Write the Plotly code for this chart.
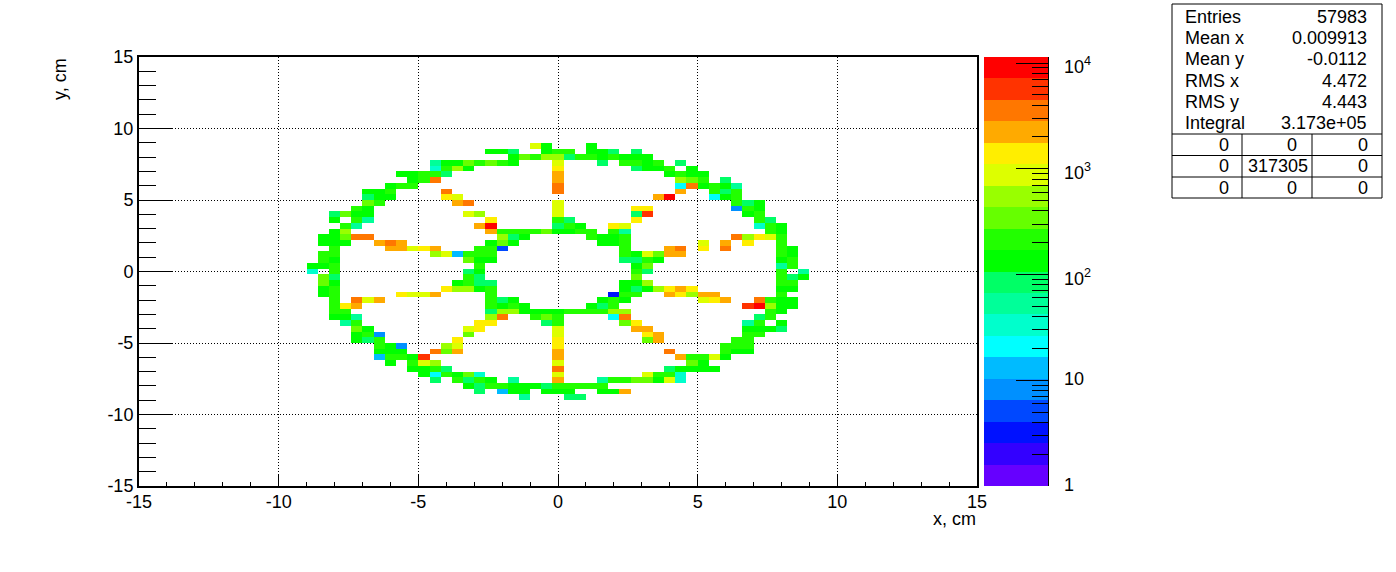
import math
import plotly.graph_objects as go

W, H = 1396, 572
BIN = 0.4
NBINS = 75
ZMAX = 4.057
NLEV = 20

palette = ["#6600ff", "#3300ff", "#0011ff", "#0048ff", "#0090ff", "#00bbff", "#00ffff",
           "#00ffcc", "#00ff99", "#00ff66", "#00ff00", "#22ff00", "#66ff00", "#99ff00",
           "#ddff00", "#ffee00", "#ffaa00", "#ff7700", "#ff3300", "#ff0000"]

LEVELS = "0123456789abcdefghij"

# colour band read per bin: row index -> (first column index, band codes)
cells = {
    59: [(35, "ea"), (40, "a")],
    58: [(31, "aa9"), (36, "abb"), (40, "aa9"), (44, "9")],
    57: [(33, "acbdd9bbabaaa")],
    56: [(26, "8aacbcba"), (37, "e"), (41, "9"), (43, "bbab"), (48, "9")],
    55: [(26, "7bda"), (37, "f"), (44, "9aab"), (49, "a")],
    54: [(23, "aabb9"), (37, "g"), (47, "abaa")],
    53: [(24, "abh"), (37, "g"), (48, "dcb"), (52, "9")],
    52: [(22, "abb"), (37, "h"), (48, "6haba8")],
    51: [(20, "aab"), (27, "h"), (37, "h"), (48, "g"), (51, "b9b")],
    50: [(20, "9aa"), (27, "fe"), (46, "gj"), (51, "6ab")],
    49: [(20, "cb"), (28, "gh"), (37, "e"), (53, "b9a")],
    48: [(19, "ba"), (37, "e"), (44, "ff"), (53, "4ba")],
    47: [(17, "9caa"), (29, "ed"), (37, "e"), (44, "9i"), (54, "ab")],
    46: [(17, "a"), (19, "b8"), (31, "f"), (37, "b9"), (44, "f"), (55, "b9")],
    45: [(18, "b8"), (30, "gj"), (37, "9ba"), (42, "fe"), (55, "7ba")],
    44: [(17, "ad"), (31, "gbbbbcaabb"), (42, "b8"), (56, "ba")],
    43: [(16, "aachh"), (32, "d9a"), (40, "baab"), (53, "hdfeb")],
    42: [(16, "aaa"), (21, "ghg"), (31, "aca"), (41, "aab"), (50, "e"), (52, "g"), (54, "f"), (57, "b")],
    41: [(17, "b"), (22, "ggefg"), (30, "bb3"), (43, "b"), (47, "gh"), (50, "f"), (52, "h"), (57, "ba")],
    40: [(16, "bb"), (26, "de5bbb"), (43, "baecgg"), (57, "ba")],
    39: [(16, "ba"), (29, "caa"), (43, "99ba"), (57, "ab")],
    38: [(15, "aab"), (30, "b"), (44, "ac"), (57, "8b")],
    37: [(15, "7"), (17, "b"), (29, "9a"), (44, "b9"), (57, "b"), (59, "8")],
    36: [(16, "c9"), (29, "b9"), (44, "c"), (57, "b9a")],
    35: [(16, "ca"), (28, "ab99"), (43, "aad"), (57, "bb")],
    34: [(16, "ab"), (27, "fddab"), (43, "a9adfgf"), (57, "aa")],
    33: [(16, "ab"), (23, "feeg"), (31, "b"), (42, "2bb"), (47, "gfdgg"), (57, "b")],
    32: [(17, "b"), (19, "heg"), (31, "b9a"), (41, "aba"), (50, "efg"), (55, "hbaa")],
    31: [(17, "bfg"), (31, "baba"), (40, "a9b"), (54, "ijdaa")],
    30: [(17, "bb"), (31, "9ddaaaabbbbdd"), (56, "ba")],
    29: [(17, "aa8"), (31, "dh"), (35, "bcb"), (42, "6h"), (55, "9b")],
    28: [(18, "8b"), (30, "ff"), (36, "9b"), (43, "cf"), (54, "8b"), (57, "a")],
    27: [(19, "ca"), (29, "ef"), (37, "e"), (44, "gg"), (54, "aaa9")],
    26: [(19, "ab4"), (29, "c"), (37, "e"), (45, "fg"), (54, "bb")],
    25: [(19, "a9b"), (28, "f"), (37, "f"), (45, "cg"), (53, "bb")],
    24: [(21, "ba4"), (27, "de"), (37, "f"), (52, "bbb")],
    23: [(21, "aaa"), (26, "hcg"), (37, "g"), (47, "h"), (52, "baa")],
    22: [(21, "5bbai"), (37, "g"), (48, "gbbea")],
    21: [(22, "a"), (24, "bed"), (37, "e"), (49, "ca")],
    20: [(24, "aab9"), (37, "h"), (47, "9aaaa")],
    19: [(25, "a6bac7"), (37, "e"), (45, "ebb7")],
    18: [(26, "9"), (28, "b9ba"), (33, "8"), (37, "g"), (41, "8bbccae7")],
    17: [(29, "a9bbaaa9bbbbb")],
    16: [(30, "9"), (32, "5aa"), (36, "aaa"), (41, "aag")],
    15: [(34, "8"), (38, "99")],
}

axis_ticks = [-15, -10, -5, 0, 5, 10, 15]
axis_ticktext = ["-15", "-10", "-5", "0", "5", "10", "15"]
scale_labels = ["1", "10", "10<sup>2</sup>", "10<sup>3</sup>", "10<sup>4</sup>"]
stats_names = ["Entries", "Mean x", "Mean y", "RMS x", "RMS y", "Integral"]
stats_values = ["57983", "0.009913", "-0.0112", "4.472", "4.443", "3.173e+05"]
overflow_table = [["0", "0", "0"], ["0", "317305", "0"], ["0", "0", "0"]]

band = ZMAX / NLEV
z = [[None] * NBINS for _ in range(NBINS)]
for row, segs in cells.items():
    for start, codes in segs:
        for k, c in enumerate(codes):
            z[row][start + k] = (LEVELS.index(c) + 0.5) * band

scale = []
for k, col in enumerate(palette):
    scale.append([k / NLEV, col])
    scale.append([(k + 1) / NLEV, col])

FONT = "Liberation Sans"
FS = 18
def px(x): return x / W
def py(y): return 1 - y / H

fig = go.Figure()
fig.add_trace(go.Heatmap(z=z, x0=-15 + BIN / 2, dx=BIN, y0=-15 + BIN / 2, dy=BIN,
                         colorscale=scale, zmin=0, zmax=ZMAX, showscale=False,
                         hoverongaps=False, xaxis="x", yaxis="y"))
fig.add_trace(go.Heatmap(z=[[(k + 0.5) * band] for k in range(NLEV)], x=[0],
                         y=[(k + 0.5) * band for k in range(NLEV)],
                         colorscale=scale, zmin=0, zmax=ZMAX, showscale=False,
                         xaxis="x2", yaxis="y2"))

dom_y = [py(486), py(57)]
tickfont = dict(family=FONT, size=FS, color="black")
GRID = dict(showgrid=True, gridcolor="black", gridwidth=1, griddash="1px,2px", automargin=False)
minor_vals = [v for v in range(-15, 16) if v % 5]
fig.update_layout(
    template="none",
    width=W, height=H, margin=dict(l=0, r=0, t=0, b=0, pad=0, autoexpand=False),
    paper_bgcolor="white", plot_bgcolor="white", showlegend=False,
    xaxis=dict(domain=[px(139), px(977)], range=[-15, 15], tickvals=axis_ticks, ticktext=axis_ticktext,
               ticks="inside", ticklen=12, tickwidth=1, tickcolor="black", showline=True, linewidth=2,
               linecolor="black", mirror=True, zeroline=False, tickfont=tickfont, anchor="y",
               ticklabelstandoff=-2,
               minor=dict(tickvals=minor_vals, ticks="inside", ticklen=4,
                          tickcolor="black", showgrid=False), **GRID),
    yaxis=dict(domain=dom_y, range=[-15, 15], tickvals=axis_ticks, ticktext=axis_ticktext,
               ticks="inside", ticklen=34, tickwidth=1, tickcolor="black", showline=True, linewidth=2,
               linecolor="black", mirror=True, zeroline=False, tickfont=tickfont, anchor="x",
               minor=dict(tickvals=minor_vals, ticks="inside", ticklen=17,
                          tickcolor="black", showgrid=False), **GRID),
    xaxis2=dict(domain=[px(984), px(1048)], range=[-0.5, 0.5], visible=False, anchor="y2", automargin=False),
    yaxis2=dict(domain=dom_y, range=[0, ZMAX], side="right", anchor="x2", showgrid=False, zeroline=False,
                automargin=False, tickvals=[0, 1, 2, 3, 4], showticklabels=False,
                ticks="inside", ticklen=32, tickwidth=1, tickcolor="black", showline=True, linewidth=1,
                linecolor="black",
                minor=dict(tickvals=[d + math.log10(m) for d in range(4) for m in range(2, 10)],
                           ticks="inside", ticklen=16, tickcolor="black", showgrid=False)),
)

def note(text, x, y, xanchor="left", yanchor="middle", **kw):
    fig.add_annotation(text=text, x=px(x), y=py(y), xref="paper", yref="paper", showarrow=False,
                       xanchor=xanchor, yanchor=yanchor, borderpad=0,
                       font=dict(family=FONT, size=FS, color="black"), **kw)

note("x, cm", 977, 519, xanchor="right")
note("y, cm", 60, 57, xanchor="center", yanchor="top", textangle=-90)

for label, yy in zip(scale_labels, [485, 379, 277, 171, 65]):
    note(label, 1063, yy)

# statistics box
box = dict(type="line", xref="paper", yref="paper", line=dict(color="black", width=1))
fig.add_shape(type="rect", xref="paper", yref="paper", x0=px(1172), x1=px(1382), y0=py(198), y1=py(4),
              line=dict(color="black", width=1), fillcolor="white")
for yy in (134, 155.5, 177):
    fig.add_shape(x0=px(1172), x1=px(1382), y0=py(yy), y1=py(yy), **box)
for xx in (1242, 1312):
    fig.add_shape(x0=px(xx), x1=px(xx), y0=py(134), y1=py(198), **box)
row_y = [17, 38, 59, 81, 102, 123]
for name, val, yy in zip(stats_names, stats_values, row_y):
    note(name, 1184, yy)
    note(val, 1368, yy, xanchor="right")
table_y = [145, 166, 188]
col_x = [1224, 1292, 1363]
for row, yy in zip(overflow_table, table_y):
    for j, (v, xx) in enumerate(zip(row, col_x)):
        note(v, 1278 if len(v) > 1 else xx, yy, xanchor="center")

fig.write_html("out.html", config={"displayModeBar": False},
               post_script="document.body.style.margin='0';document.documentElement.style.overflow='hidden';")
